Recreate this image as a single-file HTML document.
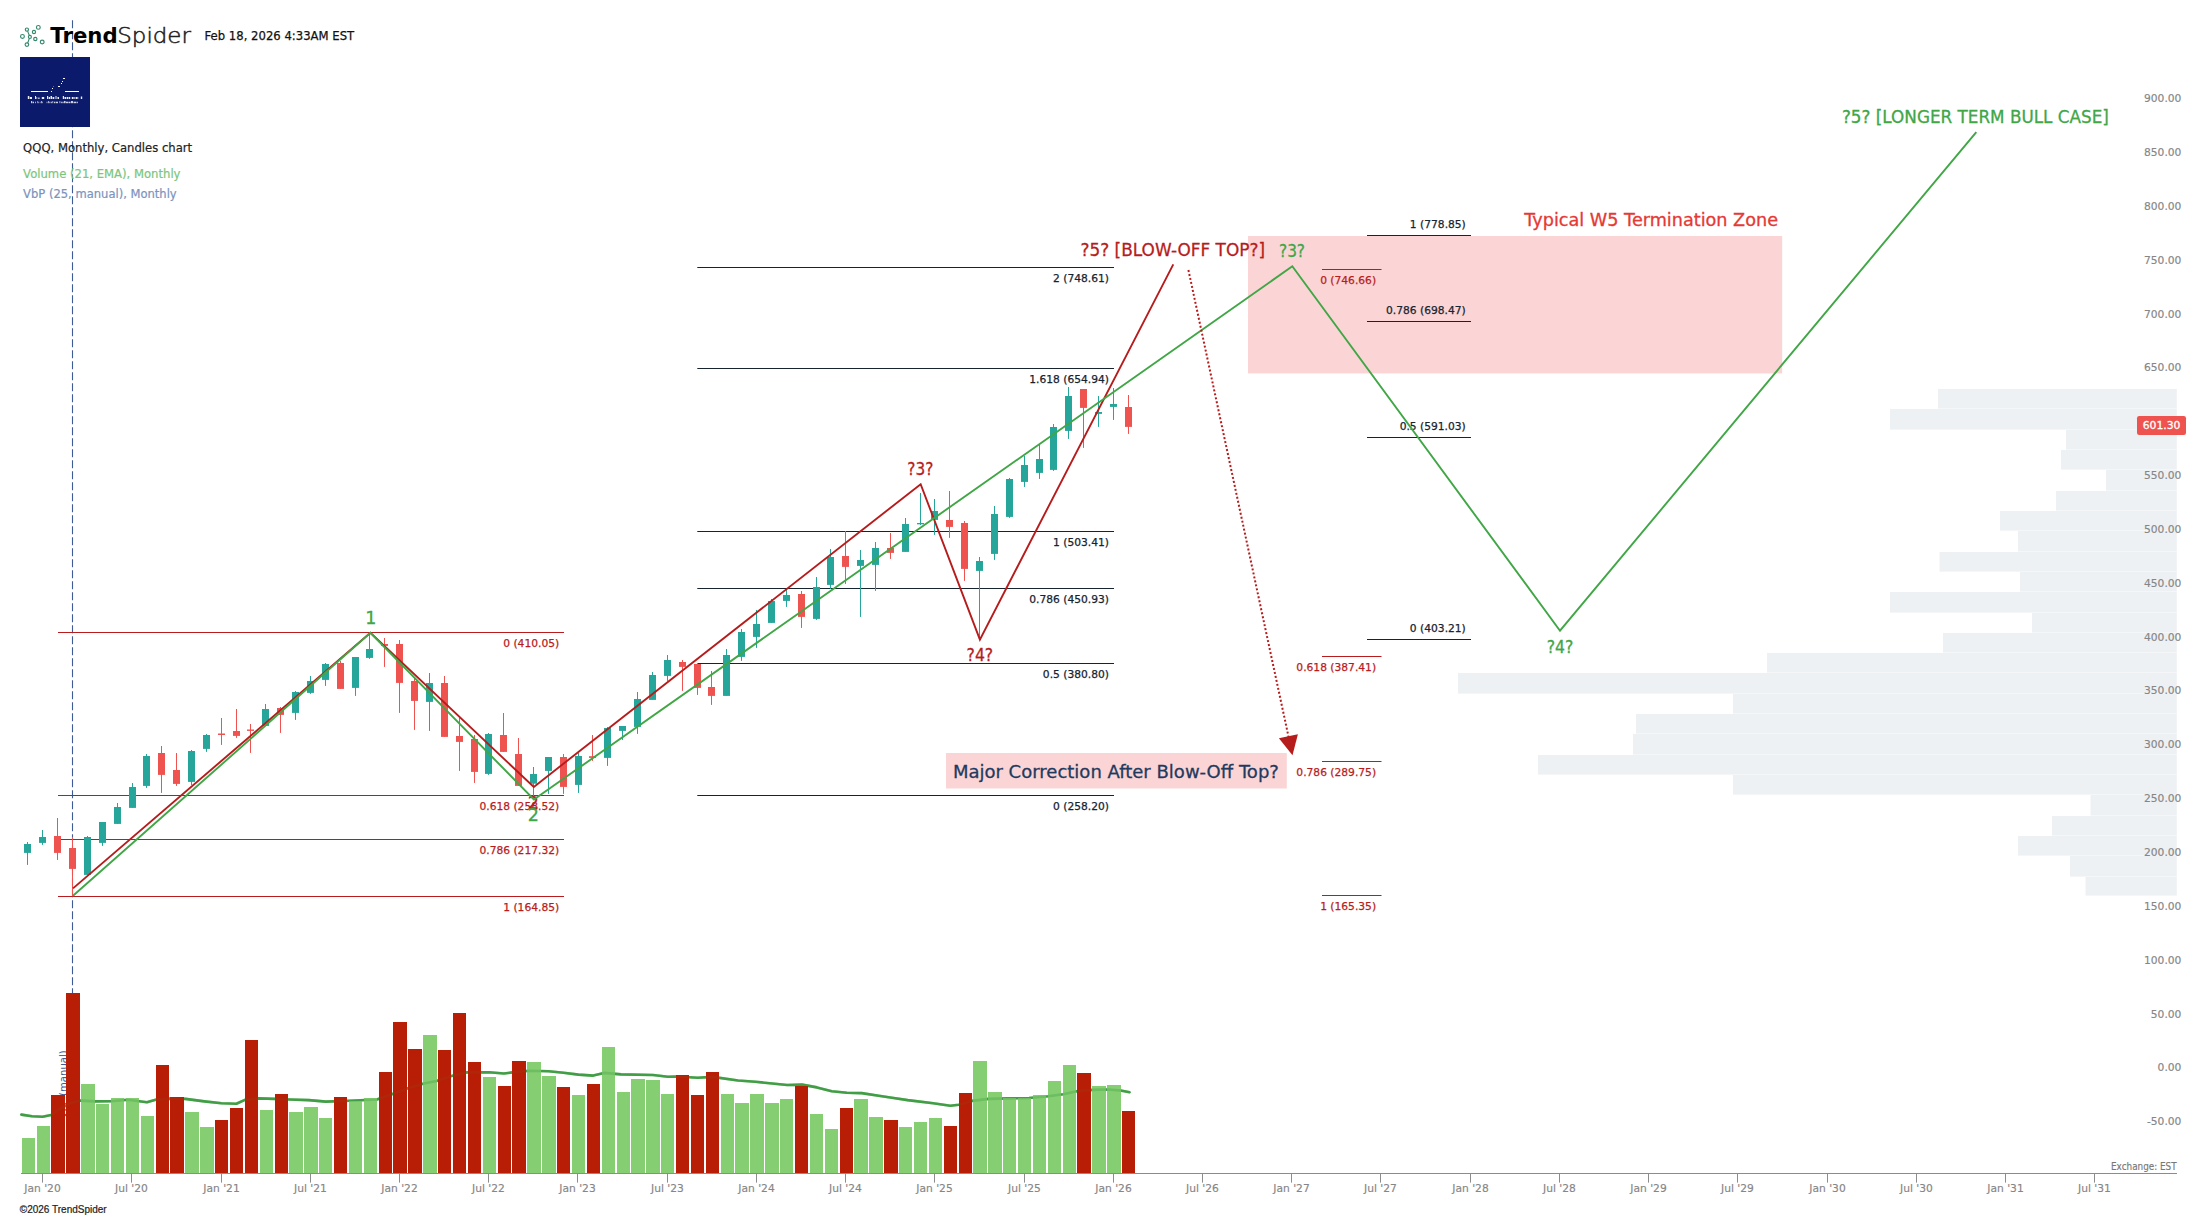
<!DOCTYPE html>
<html lang="en"><head><meta charset="utf-8"><title>QQQ Monthly - TrendSpider</title>
<style>
html,body{margin:0;padding:0;background:#fff;}
body{width:2207px;height:1219px;overflow:hidden;position:relative;}
svg{display:block;position:absolute;left:0;top:0;}
text{font-family:"DejaVu Sans","Liberation Sans",sans-serif;}
.fl{font-size:10.7px;stroke-width:0.25px;}
.ax{font-size:10.7px;fill:#868686;stroke:#868686;stroke-width:0.15px;}
.wv{font-size:17.5px;stroke-width:0.3px;}
.hv{font-family:"Liberation Sans",sans-serif;}
</style></head><body>
<svg width="2207" height="1219" viewBox="0 0 2207 1219">
<rect x="0" y="0" width="2207" height="1219" fill="#ffffff"/>
<line x1="72.5" y1="20.2" x2="72.5" y2="1173" stroke="#3f5b96" stroke-width="1.1" stroke-dasharray="8 3"/>
<g fill="none" stroke="#35896b" stroke-width="1.15">
<circle cx="38.32" cy="27.38" r="1.90"/>
<circle cx="26.90" cy="29.60" r="1.60"/>
<circle cx="33.97" cy="31.99" r="1.60"/>
<circle cx="22.45" cy="36.44" r="1.90"/>
<circle cx="29.90" cy="36.93" r="1.50"/>
<circle cx="35.32" cy="39.00" r="1.65"/>
<circle cx="42.20" cy="41.98" r="1.90"/>
<circle cx="26.90" cy="44.60" r="1.80"/>
<path d="M27.6 31.1 Q28.6 33.8 29.4 35.5 M29.3 38.4 Q28.6 40.8 27.6 42.9"/>
</g>
<text x="50.3" y="43" font-size="21.8" font-weight="700" fill="#000" textLength="67.4" lengthAdjust="spacingAndGlyphs">Trend</text>
<text x="117.3" y="43.1" font-size="20.6" fill="#222" style="font-family:'DejaVu Sans Light','DejaVu Sans','Liberation Sans',sans-serif;font-weight:200" stroke="#222" stroke-width="0.5" textLength="73.6" lengthAdjust="spacingAndGlyphs">Spider</text>
<text x="204.5" y="40" font-size="12.2" fill="#111" stroke="#111" stroke-width="0.25" textLength="149.7" lengthAdjust="spacingAndGlyphs">Feb 18, 2026 4:33AM EST</text>
<rect x="20" y="57" width="70" height="70" fill="#0b1a6b"/>
<g fill="#fff" shape-rendering="crispEdges">
<rect x="31" y="91" width="17" height="1"/><rect x="65" y="91" width="14" height="1"/>
<rect x="51" y="91" width="1" height="1" opacity="1"/>
<rect x="52" y="88" width="1" height="1" opacity="1"/>
<rect x="53" y="86" width="1" height="1" opacity="0.35"/>
<rect x="58" y="86" width="2" height="1" opacity="1"/>
<rect x="61" y="83" width="1" height="1" opacity="1"/>
<rect x="62" y="81" width="1" height="1" opacity="1"/>
<rect x="63" y="78" width="2" height="1" opacity="1"/>
</g>
<g fill="#fff">
<rect x="27.8" y="96.0" width="1.5" height="3.0" opacity="0.92"/>
<rect x="29.8" y="97.0" width="2.2" height="2.0" opacity="0.92"/>
<rect x="35.0" y="96.0" width="1.0" height="3.0" opacity="0.92"/>
<rect x="36.5" y="97.0" width="0.7" height="2.0" opacity="0.92"/>
<rect x="38.3" y="97.5" width="1.2" height="1.5" opacity="0.92"/>
<rect x="41.8" y="97.0" width="2.4" height="2.0" opacity="0.92"/>
<rect x="47.0" y="96.0" width="1.2" height="3.0" opacity="0.92"/>
<rect x="48.7" y="97.0" width="1.3" height="2.0" opacity="0.92"/>
<rect x="50.5" y="96.0" width="1.5" height="3.0" opacity="0.92"/>
<rect x="52.5" y="97.0" width="1.8" height="2.0" opacity="0.92"/>
<rect x="55.5" y="96.0" width="1.0" height="3.0" opacity="0.92"/>
<rect x="57.5" y="97.0" width="1.5" height="2.0" opacity="0.92"/>
<rect x="62.8" y="96.0" width="1.2" height="3.0" opacity="0.92"/>
<rect x="64.5" y="97.0" width="1.5" height="2.0" opacity="0.92"/>
<rect x="66.6" y="97.0" width="1.6" height="2.0" opacity="0.92"/>
<rect x="68.7" y="97.0" width="1.5" height="2.0" opacity="0.92"/>
<rect x="71.8" y="97.0" width="1.2" height="2.0" opacity="0.92"/>
<rect x="73.4" y="97.0" width="1.2" height="2.0" opacity="0.92"/>
<rect x="75.6" y="97.0" width="1.4" height="2.0" opacity="0.92"/>
<rect x="77.4" y="97.0" width="0.8" height="2.0" opacity="0.92"/>
<rect x="80.8" y="96.5" width="1.4" height="2.5" opacity="0.92"/>
<rect x="31.0" y="101.0" width="1.2" height="2.2" opacity="0.8"/>
<rect x="32.6" y="101.7" width="1.4" height="1.5" opacity="0.8"/>
<rect x="35.2" y="101.7" width="0.8" height="1.5" opacity="0.8"/>
<rect x="37.0" y="101.0" width="0.6" height="2.2" opacity="0.8"/>
<rect x="38.4" y="101.7" width="0.6" height="1.5" opacity="0.8"/>
<rect x="39.8" y="101.7" width="0.6" height="1.5" opacity="0.8"/>
<rect x="41.2" y="101.0" width="0.8" height="2.2" opacity="0.8"/>
<rect x="42.4" y="101.7" width="0.6" height="1.5" opacity="0.8"/>
<rect x="46.6" y="101.7" width="0.8" height="1.5" opacity="0.8"/>
<rect x="48.0" y="101.0" width="0.8" height="2.2" opacity="0.8"/>
<rect x="49.4" y="101.7" width="1.0" height="1.5" opacity="0.8"/>
<rect x="51.0" y="101.7" width="0.8" height="1.5" opacity="0.8"/>
<rect x="52.4" y="101.0" width="0.8" height="2.2" opacity="0.8"/>
<rect x="54.0" y="101.7" width="1.5" height="1.5" opacity="0.8"/>
<rect x="56.0" y="101.7" width="2.0" height="1.5" opacity="0.8"/>
<rect x="59.5" y="101.0" width="0.8" height="2.2" opacity="0.8"/>
<rect x="61.0" y="101.7" width="0.8" height="1.5" opacity="0.8"/>
<rect x="62.4" y="101.7" width="1.2" height="1.5" opacity="0.8"/>
<rect x="64.0" y="101.0" width="1.6" height="2.2" opacity="0.8"/>
<rect x="66.0" y="101.7" width="2.0" height="1.5" opacity="0.8"/>
<rect x="68.4" y="101.7" width="2.1" height="1.5" opacity="0.8"/>
<rect x="71.0" y="101.0" width="2.0" height="2.2" opacity="0.8"/>
<rect x="73.5" y="101.7" width="2.5" height="1.5" opacity="0.8"/>
<rect x="76.5" y="101.7" width="1.3" height="1.5" opacity="0.8"/>
</g>
<text x="23.1" y="152.2" font-size="12" fill="#222" stroke="#222" stroke-width="0.2" textLength="169" lengthAdjust="spacingAndGlyphs">QQQ, Monthly, Candles chart</text>
<text x="23.1" y="178" font-size="12" fill="#7cc67c" stroke="#7cc67c" stroke-width="0.2" textLength="157.4" lengthAdjust="spacingAndGlyphs">Volume (21, EMA), Monthly</text>
<text x="23.1" y="198.2" font-size="12" fill="#7b93bd" stroke="#7b93bd" stroke-width="0.2" textLength="153.6" lengthAdjust="spacingAndGlyphs">VbP (25, manual), Monthly</text>
<g fill="#eef1f3">
<rect x="1938.0" y="389" width="238.8" height="19.6"/>
<rect x="1890.0" y="409" width="286.8" height="20.6"/>
<rect x="2066.0" y="430" width="110.8" height="19.6"/>
<rect x="2061.0" y="450" width="115.8" height="19.6"/>
<rect x="2106.0" y="470" width="70.8" height="20.6"/>
<rect x="2056.0" y="491" width="120.8" height="19.6"/>
<rect x="2000.0" y="511" width="176.8" height="19.6"/>
<rect x="2018.0" y="531" width="158.8" height="20.6"/>
<rect x="1939.5" y="552" width="237.3" height="19.6"/>
<rect x="2020.0" y="572" width="156.8" height="19.6"/>
<rect x="1890.0" y="592" width="286.8" height="20.6"/>
<rect x="2032.0" y="613" width="144.8" height="19.6"/>
<rect x="1943.0" y="633" width="233.8" height="19.6"/>
<rect x="1767.0" y="653" width="409.8" height="19.6"/>
<rect x="1458.0" y="673" width="718.8" height="20.6"/>
<rect x="1733.0" y="694" width="443.8" height="19.6"/>
<rect x="1636.0" y="714" width="540.8" height="19.6"/>
<rect x="1633.0" y="734" width="543.8" height="20.6"/>
<rect x="1538.0" y="755" width="638.8" height="19.6"/>
<rect x="1733.0" y="775" width="443.8" height="19.6"/>
<rect x="2090.5" y="795" width="86.3" height="20.6"/>
<rect x="2052.0" y="816" width="124.8" height="19.6"/>
<rect x="2018.0" y="836" width="158.8" height="19.6"/>
<rect x="2070.0" y="856" width="106.8" height="20.6"/>
<rect x="2085.5" y="877" width="91.3" height="18.6"/>
</g>
<rect x="1248" y="236" width="534.2" height="137.4" fill="#fbd5d5"/>
<text x="1524.3" y="225.5" font-size="17.3" fill="#e53935" stroke="#e53935" stroke-width="0.3" textLength="253.7" lengthAdjust="spacingAndGlyphs">Typical W5 Termination Zone</text>
<line x1="58.00" x2="564.00" y1="632.50" y2="632.50" stroke="#b91c1c" stroke-width="1.15"/>
<text x="559.20" y="646.90" text-anchor="end" class="fl" fill="#b91c1c" stroke="#b91c1c">0 (410.05)</text>
<line x1="58.00" x2="564.00" y1="795.50" y2="795.50" stroke="#b91c1c" stroke-width="1.15"/>
<text x="559.20" y="809.90" text-anchor="end" class="fl" fill="#b91c1c" stroke="#b91c1c">0.618 (258.52)</text>
<line x1="58.00" x2="564.00" y1="839.50" y2="839.50" stroke="#b91c1c" stroke-width="1.15"/>
<text x="559.20" y="853.90" text-anchor="end" class="fl" fill="#b91c1c" stroke="#b91c1c">0.786 (217.32)</text>
<line x1="58.00" x2="564.00" y1="896.50" y2="896.50" stroke="#b91c1c" stroke-width="1.15"/>
<text x="559.20" y="910.90" text-anchor="end" class="fl" fill="#b91c1c" stroke="#b91c1c">1 (164.85)</text>
<line x1="697.30" x2="1114.00" y1="267.50" y2="267.50" stroke="#16242f" stroke-width="1.15"/>
<text x="1109.00" y="282.00" text-anchor="end" class="fl" fill="#16242f" stroke="#16242f">2 (748.61)</text>
<line x1="697.30" x2="1114.00" y1="368.50" y2="368.50" stroke="#16242f" stroke-width="1.15"/>
<text x="1109.00" y="383.00" text-anchor="end" class="fl" fill="#16242f" stroke="#16242f">1.618 (654.94)</text>
<line x1="697.30" x2="1114.00" y1="531.50" y2="531.50" stroke="#16242f" stroke-width="1.15"/>
<text x="1109.00" y="546.00" text-anchor="end" class="fl" fill="#16242f" stroke="#16242f">1 (503.41)</text>
<line x1="697.30" x2="1114.00" y1="588.50" y2="588.50" stroke="#16242f" stroke-width="1.15"/>
<text x="1109.00" y="603.00" text-anchor="end" class="fl" fill="#16242f" stroke="#16242f">0.786 (450.93)</text>
<line x1="697.30" x2="1114.00" y1="663.50" y2="663.50" stroke="#16242f" stroke-width="1.15"/>
<text x="1109.00" y="678.00" text-anchor="end" class="fl" fill="#16242f" stroke="#16242f">0.5 (380.80)</text>
<line x1="697.30" x2="1114.00" y1="795.50" y2="795.50" stroke="#16242f" stroke-width="1.15"/>
<text x="1109.00" y="810.00" text-anchor="end" class="fl" fill="#16242f" stroke="#16242f">0 (258.20)</text>
<line x1="1322.00" x2="1381.50" y1="269.50" y2="269.50" stroke="#b91c1c" stroke-width="1.15"/>
<text x="1376.10" y="283.70" text-anchor="end" class="fl" fill="#b91c1c" stroke="#b91c1c">0 (746.66)</text>
<line x1="1322.00" x2="1381.50" y1="656.50" y2="656.50" stroke="#b91c1c" stroke-width="1.15"/>
<text x="1376.10" y="670.70" text-anchor="end" class="fl" fill="#b91c1c" stroke="#b91c1c">0.618 (387.41)</text>
<line x1="1322.00" x2="1381.50" y1="761.50" y2="761.50" stroke="#b91c1c" stroke-width="1.15"/>
<text x="1376.10" y="775.70" text-anchor="end" class="fl" fill="#b91c1c" stroke="#b91c1c">0.786 (289.75)</text>
<line x1="1322.00" x2="1381.50" y1="895.50" y2="895.50" stroke="#b91c1c" stroke-width="1.15"/>
<text x="1376.10" y="909.70" text-anchor="end" class="fl" fill="#b91c1c" stroke="#b91c1c">1 (165.35)</text>
<line x1="1367.00" x2="1471.00" y1="235.50" y2="235.50" stroke="#16242f" stroke-width="1.15"/>
<text x="1465.80" y="227.90" text-anchor="end" class="fl" fill="#16242f" stroke="#16242f">1 (778.85)</text>
<line x1="1367.00" x2="1471.00" y1="321.50" y2="321.50" stroke="#16242f" stroke-width="1.15"/>
<text x="1465.80" y="313.90" text-anchor="end" class="fl" fill="#16242f" stroke="#16242f">0.786 (698.47)</text>
<line x1="1367.00" x2="1471.00" y1="437.50" y2="437.50" stroke="#16242f" stroke-width="1.15"/>
<text x="1465.80" y="429.90" text-anchor="end" class="fl" fill="#16242f" stroke="#16242f">0.5 (591.03)</text>
<line x1="1367.00" x2="1471.00" y1="639.50" y2="639.50" stroke="#16242f" stroke-width="1.15"/>
<text x="1465.80" y="631.90" text-anchor="end" class="fl" fill="#16242f" stroke="#16242f">0 (403.21)</text>
<g>
<rect x="27" y="842.0" width="1" height="22.9" fill="#26a69a"/>
<rect x="24" y="844.0" width="7" height="8.9" fill="#26a69a"/>
<rect x="42" y="830.0" width="1" height="14.9" fill="#26a69a"/>
<rect x="39" y="837.0" width="7" height="5.9" fill="#26a69a"/>
<rect x="57" y="818.0" width="1" height="41.9" fill="#ef5350"/>
<rect x="54" y="836.0" width="7" height="16.9" fill="#ef5350"/>
<rect x="72" y="837.0" width="1" height="59.2" fill="#ef5350"/>
<rect x="69" y="848.0" width="7" height="20.9" fill="#ef5350"/>
<rect x="87" y="836.0" width="1" height="38.9" fill="#26a69a"/>
<rect x="84" y="837.0" width="7" height="37.9" fill="#26a69a"/>
<rect x="102" y="822.0" width="1" height="23.9" fill="#26a69a"/>
<rect x="99" y="822.0" width="7" height="20.9" fill="#26a69a"/>
<rect x="117" y="803.0" width="1" height="20.9" fill="#26a69a"/>
<rect x="114" y="807.0" width="7" height="16.9" fill="#26a69a"/>
<rect x="132" y="783.0" width="1" height="24.9" fill="#26a69a"/>
<rect x="129" y="787.0" width="7" height="20.9" fill="#26a69a"/>
<rect x="146" y="754.0" width="1" height="33.9" fill="#26a69a"/>
<rect x="143" y="756.0" width="7" height="29.9" fill="#26a69a"/>
<rect x="161" y="746.0" width="1" height="46.9" fill="#ef5350"/>
<rect x="158" y="753.0" width="7" height="21.9" fill="#ef5350"/>
<rect x="176" y="753.0" width="1" height="32.9" fill="#ef5350"/>
<rect x="173" y="770.0" width="7" height="13.9" fill="#ef5350"/>
<rect x="191" y="750.0" width="1" height="35.0" fill="#26a69a"/>
<rect x="188" y="751.0" width="7" height="30.9" fill="#26a69a"/>
<rect x="206" y="734.0" width="1" height="17.9" fill="#26a69a"/>
<rect x="203" y="735.0" width="7" height="13.9" fill="#26a69a"/>
<rect x="221" y="718.0" width="1" height="26.9" fill="#ef5350"/>
<rect x="218" y="733.5" width="7" height="1.5" fill="#ef5350"/>
<rect x="236" y="709.0" width="1" height="28.9" fill="#ef5350"/>
<rect x="233" y="731.0" width="7" height="4.9" fill="#ef5350"/>
<rect x="250" y="724.0" width="1" height="28.9" fill="#ef5350"/>
<rect x="247" y="729.5" width="7" height="1.4" fill="#ef5350"/>
<rect x="265" y="704.0" width="1" height="21.9" fill="#26a69a"/>
<rect x="262" y="709.0" width="7" height="16.9" fill="#26a69a"/>
<rect x="280" y="707.0" width="1" height="25.9" fill="#ef5350"/>
<rect x="277" y="708.0" width="7" height="6.9" fill="#ef5350"/>
<rect x="295" y="691.0" width="1" height="28.9" fill="#26a69a"/>
<rect x="292" y="692.0" width="7" height="20.9" fill="#26a69a"/>
<rect x="310" y="676.0" width="1" height="17.9" fill="#26a69a"/>
<rect x="307" y="681.0" width="7" height="11.9" fill="#26a69a"/>
<rect x="325" y="663.0" width="1" height="22.9" fill="#26a69a"/>
<rect x="322" y="664.0" width="7" height="15.9" fill="#26a69a"/>
<rect x="340" y="661.0" width="1" height="27.9" fill="#ef5350"/>
<rect x="337" y="663.0" width="7" height="25.9" fill="#ef5350"/>
<rect x="355" y="657.0" width="1" height="38.9" fill="#26a69a"/>
<rect x="352" y="657.0" width="7" height="30.9" fill="#26a69a"/>
<rect x="369" y="633.0" width="1" height="25.9" fill="#26a69a"/>
<rect x="366" y="649.0" width="7" height="8.9" fill="#26a69a"/>
<rect x="384" y="638.0" width="1" height="28.9" fill="#ef5350"/>
<rect x="381" y="644.0" width="7" height="1.9" fill="#ef5350"/>
<rect x="399" y="640.0" width="1" height="72.9" fill="#ef5350"/>
<rect x="396" y="644.0" width="7" height="38.9" fill="#ef5350"/>
<rect x="414" y="677.0" width="1" height="52.9" fill="#ef5350"/>
<rect x="411" y="681.0" width="7" height="19.9" fill="#ef5350"/>
<rect x="429" y="673.0" width="1" height="57.9" fill="#26a69a"/>
<rect x="426" y="683.0" width="7" height="18.9" fill="#26a69a"/>
<rect x="444" y="676.0" width="1" height="60.9" fill="#ef5350"/>
<rect x="441" y="683.0" width="7" height="53.9" fill="#ef5350"/>
<rect x="459" y="718.0" width="1" height="52.9" fill="#ef5350"/>
<rect x="456" y="736.0" width="7" height="5.9" fill="#ef5350"/>
<rect x="474" y="735.0" width="1" height="47.9" fill="#ef5350"/>
<rect x="471" y="739.0" width="7" height="32.9" fill="#ef5350"/>
<rect x="488" y="733.0" width="1" height="41.9" fill="#26a69a"/>
<rect x="485" y="734.0" width="7" height="39.9" fill="#26a69a"/>
<rect x="503" y="713.0" width="1" height="38.9" fill="#ef5350"/>
<rect x="500" y="735.0" width="7" height="16.9" fill="#ef5350"/>
<rect x="518" y="738.0" width="1" height="47.9" fill="#ef5350"/>
<rect x="515" y="754.0" width="7" height="31.9" fill="#ef5350"/>
<rect x="533" y="767.0" width="1" height="30.9" fill="#26a69a"/>
<rect x="530" y="774.0" width="7" height="9.7" fill="#26a69a"/>
<rect x="548" y="757.0" width="1" height="36.9" fill="#26a69a"/>
<rect x="545" y="757.0" width="7" height="13.9" fill="#26a69a"/>
<rect x="563" y="754.0" width="1" height="39.9" fill="#ef5350"/>
<rect x="560" y="757.0" width="7" height="29.9" fill="#ef5350"/>
<rect x="578" y="753.0" width="1" height="39.9" fill="#26a69a"/>
<rect x="575" y="756.0" width="7" height="28.9" fill="#26a69a"/>
<rect x="592" y="735.0" width="1" height="25.9" fill="#ef5350"/>
<rect x="589" y="756.2" width="7" height="1.7" fill="#ef5350"/>
<rect x="607" y="727.0" width="1" height="38.9" fill="#26a69a"/>
<rect x="604" y="728.0" width="7" height="29.9" fill="#26a69a"/>
<rect x="622" y="726.0" width="1" height="13.9" fill="#26a69a"/>
<rect x="619" y="726.0" width="7" height="4.9" fill="#26a69a"/>
<rect x="637" y="692.0" width="1" height="41.9" fill="#26a69a"/>
<rect x="634" y="699.0" width="7" height="27.9" fill="#26a69a"/>
<rect x="652" y="672.0" width="1" height="27.9" fill="#26a69a"/>
<rect x="649" y="675.0" width="7" height="24.9" fill="#26a69a"/>
<rect x="667" y="655.0" width="1" height="25.9" fill="#26a69a"/>
<rect x="664" y="660.0" width="7" height="15.9" fill="#26a69a"/>
<rect x="682" y="660.0" width="1" height="30.9" fill="#ef5350"/>
<rect x="679" y="662.0" width="7" height="4.9" fill="#ef5350"/>
<rect x="697" y="663.0" width="1" height="31.9" fill="#ef5350"/>
<rect x="694" y="664.0" width="7" height="23.9" fill="#ef5350"/>
<rect x="711" y="671.0" width="1" height="33.9" fill="#ef5350"/>
<rect x="708" y="687.0" width="7" height="8.9" fill="#ef5350"/>
<rect x="726" y="649.0" width="1" height="46.9" fill="#26a69a"/>
<rect x="723" y="655.0" width="7" height="40.9" fill="#26a69a"/>
<rect x="741" y="629.0" width="1" height="31.9" fill="#26a69a"/>
<rect x="738" y="632.0" width="7" height="24.9" fill="#26a69a"/>
<rect x="756" y="610.0" width="1" height="37.9" fill="#26a69a"/>
<rect x="753" y="624.0" width="7" height="12.9" fill="#26a69a"/>
<rect x="771" y="599.0" width="1" height="23.9" fill="#26a69a"/>
<rect x="768" y="601.0" width="7" height="21.9" fill="#26a69a"/>
<rect x="786" y="589.0" width="1" height="17.9" fill="#26a69a"/>
<rect x="783" y="595.0" width="7" height="5.9" fill="#26a69a"/>
<rect x="801" y="591.0" width="1" height="36.9" fill="#ef5350"/>
<rect x="798" y="594.0" width="7" height="22.9" fill="#ef5350"/>
<rect x="816" y="577.0" width="1" height="42.9" fill="#26a69a"/>
<rect x="813" y="587.0" width="7" height="31.9" fill="#26a69a"/>
<rect x="830" y="549.0" width="1" height="39.9" fill="#26a69a"/>
<rect x="827" y="557.0" width="7" height="27.9" fill="#26a69a"/>
<rect x="845" y="531.0" width="1" height="52.9" fill="#ef5350"/>
<rect x="842" y="556.0" width="7" height="10.9" fill="#ef5350"/>
<rect x="860" y="550.0" width="1" height="66.9" fill="#26a69a"/>
<rect x="857" y="560.0" width="7" height="5.9" fill="#26a69a"/>
<rect x="875" y="542.0" width="1" height="48.9" fill="#26a69a"/>
<rect x="872" y="548.0" width="7" height="16.9" fill="#26a69a"/>
<rect x="890" y="533.0" width="1" height="25.9" fill="#ef5350"/>
<rect x="887" y="548.0" width="7" height="4.9" fill="#ef5350"/>
<rect x="905" y="518.0" width="1" height="33.9" fill="#26a69a"/>
<rect x="902" y="524.0" width="7" height="27.9" fill="#26a69a"/>
<rect x="920" y="493.0" width="1" height="32.0" fill="#26a69a"/>
<rect x="917" y="523.0" width="7" height="1.3" fill="#26a69a"/>
<rect x="934" y="499.0" width="1" height="35.9" fill="#26a69a"/>
<rect x="931" y="511.0" width="7" height="8.9" fill="#26a69a"/>
<rect x="949" y="491.0" width="1" height="46.9" fill="#ef5350"/>
<rect x="946" y="520.0" width="7" height="6.9" fill="#ef5350"/>
<rect x="964" y="521.0" width="1" height="59.9" fill="#ef5350"/>
<rect x="961" y="523.0" width="7" height="45.9" fill="#ef5350"/>
<rect x="979" y="557.0" width="1" height="82.0" fill="#26a69a"/>
<rect x="976" y="561.0" width="7" height="9.9" fill="#26a69a"/>
<rect x="994" y="506.0" width="1" height="53.9" fill="#26a69a"/>
<rect x="991" y="514.0" width="7" height="39.9" fill="#26a69a"/>
<rect x="1009" y="478.0" width="1" height="39.9" fill="#26a69a"/>
<rect x="1006" y="479.0" width="7" height="37.9" fill="#26a69a"/>
<rect x="1024" y="456.0" width="1" height="30.9" fill="#26a69a"/>
<rect x="1021" y="465.0" width="7" height="16.9" fill="#26a69a"/>
<rect x="1039" y="445.0" width="1" height="33.9" fill="#26a69a"/>
<rect x="1036" y="459.0" width="7" height="13.9" fill="#26a69a"/>
<rect x="1053" y="424.0" width="1" height="46.9" fill="#26a69a"/>
<rect x="1050" y="427.0" width="7" height="42.9" fill="#26a69a"/>
<rect x="1068" y="387.0" width="1" height="51.9" fill="#26a69a"/>
<rect x="1065" y="396.0" width="7" height="34.9" fill="#26a69a"/>
<rect x="1083" y="389.0" width="1" height="58.9" fill="#ef5350"/>
<rect x="1080" y="389.0" width="7" height="18.9" fill="#ef5350"/>
<rect x="1098" y="396.0" width="1" height="30.9" fill="#26a69a"/>
<rect x="1095" y="412.0" width="7" height="1.9" fill="#26a69a"/>
<rect x="1113" y="388.0" width="1" height="31.9" fill="#26a69a"/>
<rect x="1110" y="404.0" width="7" height="2.9" fill="#26a69a"/>
<rect x="1128" y="395.0" width="1" height="38.9" fill="#ef5350"/>
<rect x="1125" y="407.0" width="7" height="19.9" fill="#ef5350"/>
</g>
<text x="533.3" y="808.5" text-anchor="middle" class="wv" fill="#b71c1c" stroke="#b71c1c">2</text>
<polyline fill="none" stroke="#b71c1c" stroke-width="1.9" stroke-linejoin="miter" points="73,888.4 370.4,632.9 533.8,786.9 920.65,484.2 979.9,639.6 1173.3,264.4"/>
<polyline fill="none" stroke="#40a646" stroke-width="1.9" stroke-linejoin="miter" points="73,895.8 370.4,632.9 533.9,799.5 1292.3,266.3 1560,630.7 1976.3,132.1"/>
<line x1="1188.4" y1="270" x2="1288.8" y2="738" stroke="#b71c1c" stroke-width="2" stroke-dasharray="2 2.07"/>
<polygon points="1278.9,738.2 1297.9,734.2 1292.5,755.2" fill="#b71c1c"/>
<text x="370.90" y="623.75" text-anchor="middle" class="wv" fill="#40a646" stroke="#40a646">1</text>
<text x="533.40" y="821.00" text-anchor="middle" class="wv" fill="#40a646" stroke="#40a646">2</text>
<text x="920.30" y="475.00" text-anchor="middle" class="wv" fill="#b71c1c" stroke="#b71c1c" textLength="26" lengthAdjust="spacingAndGlyphs">?3?</text>
<text x="979.90" y="661.40" text-anchor="middle" class="wv" fill="#b71c1c" stroke="#b71c1c" textLength="26.6" lengthAdjust="spacingAndGlyphs">?4?</text>
<text x="1080.50" y="255.50" text-anchor="start" class="wv" fill="#b71c1c" stroke="#b71c1c" textLength="184.5" lengthAdjust="spacingAndGlyphs">?5? [BLOW-OFF TOP?]</text>
<text x="1292.00" y="257.20" text-anchor="middle" class="wv" fill="#40a646" stroke="#40a646" textLength="26" lengthAdjust="spacingAndGlyphs">?3?</text>
<text x="1560.00" y="652.60" text-anchor="middle" class="wv" fill="#40a646" stroke="#40a646" textLength="26.6" lengthAdjust="spacingAndGlyphs">?4?</text>
<text x="1841.90" y="122.60" text-anchor="start" class="wv" fill="#40a646" stroke="#40a646" textLength="267" lengthAdjust="spacingAndGlyphs">?5? [LONGER TERM BULL CASE]</text>
<rect x="946" y="753" width="340.8" height="35.5" fill="#fbd5d5"/>
<text x="952.9" y="778" font-size="18" fill="#1f3a5f" stroke="#1f3a5f" stroke-width="0.3" textLength="326" lengthAdjust="spacingAndGlyphs">Major Correction After Blow-Off Top?</text>
<text transform="translate(67,1050.3) rotate(-90)" x="-68.2" y="0" font-size="11" fill="#3f5b96" textLength="68.2" lengthAdjust="spacingAndGlyphs">VbP (manual)</text>
<polyline fill="none" stroke="#43a047" stroke-width="2.6" stroke-linejoin="round" stroke-linecap="round" points="21.3,1114.6 32.0,1116.3 42.6,1116.7 51.1,1115.0 60.0,1109.0 70.0,1103.0 80.9,1100.6 95.8,1101.4 110.7,1101.2 127.8,1099.7 146.9,1102.3 156.5,1099.5 170.0,1098.6 185.3,1098.9 204.4,1101.4 221.5,1103.3 236.4,1103.8 244.9,1099.9 258.7,1098.4 274.7,1098.9 289.6,1099.5 308.8,1100.1 325.8,1101.6 349.3,1100.8 376.9,1099.5 391.8,1094.2 407.8,1088.2 423.8,1083.5 436.6,1081.0 451.5,1076.1 466.6,1072.4 489.0,1072.2 503.9,1073.5 512.4,1072.4 529.4,1070.7 548.6,1071.2 563.5,1072.7 578.4,1074.6 593.3,1075.6 604.0,1072.9 621.0,1074.4 653.0,1075.0 667.9,1076.7 676.4,1076.5 697.7,1077.8 712.6,1076.9 738.1,1080.5 755.2,1081.8 772.2,1083.5 787.1,1085.0 802.0,1084.6 816.9,1087.4 831.8,1091.2 846.8,1092.7 861.7,1093.1 878.7,1095.7 893.6,1098.0 907.7,1100.1 933.2,1103.3 950.3,1105.7 958.8,1104.8 973.7,1100.6 988.6,1098.9 1007.8,1098.4 1029.0,1098.0 1048.2,1096.3 1063.1,1094.2 1078.0,1091.0 1093.0,1089.9 1107.9,1089.5 1120.6,1090.5 1129.6,1092.2"/>
<g shape-rendering="crispEdges">
<rect x="22" y="1138" width="13" height="35" fill="#85cf72"/>
<rect x="37" y="1126" width="13" height="47" fill="#85cf72"/>
<rect x="81" y="1084" width="14" height="89" fill="#85cf72"/>
<rect x="96" y="1104" width="13" height="69" fill="#85cf72"/>
<rect x="111" y="1098" width="13" height="75" fill="#85cf72"/>
<rect x="126" y="1098" width="13" height="75" fill="#85cf72"/>
<rect x="141" y="1116" width="13" height="57" fill="#85cf72"/>
<rect x="185" y="1112" width="14" height="61" fill="#85cf72"/>
<rect x="200" y="1127" width="14" height="46" fill="#85cf72"/>
<rect x="260" y="1110" width="13" height="63" fill="#85cf72"/>
<rect x="289" y="1112" width="14" height="61" fill="#85cf72"/>
<rect x="304" y="1107" width="14" height="66" fill="#85cf72"/>
<rect x="319" y="1118" width="13" height="55" fill="#85cf72"/>
<rect x="349" y="1101" width="13" height="72" fill="#85cf72"/>
<rect x="364" y="1098" width="13" height="75" fill="#85cf72"/>
<rect x="423" y="1035" width="14" height="138" fill="#85cf72"/>
<rect x="483" y="1077" width="13" height="96" fill="#85cf72"/>
<rect x="527" y="1062" width="14" height="111" fill="#85cf72"/>
<rect x="542" y="1076" width="14" height="97" fill="#85cf72"/>
<rect x="572" y="1095" width="13" height="78" fill="#85cf72"/>
<rect x="602" y="1047" width="13" height="126" fill="#85cf72"/>
<rect x="617" y="1092" width="13" height="81" fill="#85cf72"/>
<rect x="631" y="1079" width="14" height="94" fill="#85cf72"/>
<rect x="646" y="1080" width="14" height="93" fill="#85cf72"/>
<rect x="661" y="1094" width="13" height="79" fill="#85cf72"/>
<rect x="721" y="1094" width="13" height="79" fill="#85cf72"/>
<rect x="735" y="1103" width="14" height="70" fill="#85cf72"/>
<rect x="750" y="1094" width="14" height="79" fill="#85cf72"/>
<rect x="765" y="1103" width="14" height="70" fill="#85cf72"/>
<rect x="780" y="1099" width="13" height="74" fill="#85cf72"/>
<rect x="810" y="1114" width="13" height="59" fill="#85cf72"/>
<rect x="825" y="1129" width="13" height="44" fill="#85cf72"/>
<rect x="854" y="1099" width="14" height="74" fill="#85cf72"/>
<rect x="869" y="1117" width="14" height="56" fill="#85cf72"/>
<rect x="899" y="1127" width="13" height="46" fill="#85cf72"/>
<rect x="914" y="1122" width="13" height="51" fill="#85cf72"/>
<rect x="929" y="1118" width="13" height="55" fill="#85cf72"/>
<rect x="973" y="1061" width="14" height="112" fill="#85cf72"/>
<rect x="988" y="1092" width="14" height="81" fill="#85cf72"/>
<rect x="1003" y="1098" width="13" height="75" fill="#85cf72"/>
<rect x="1018" y="1098" width="13" height="75" fill="#85cf72"/>
<rect x="1033" y="1095" width="13" height="78" fill="#85cf72"/>
<rect x="1048" y="1081" width="13" height="92" fill="#85cf72"/>
<rect x="1063" y="1065" width="13" height="108" fill="#85cf72"/>
<rect x="1092" y="1086" width="14" height="87" fill="#85cf72"/>
<rect x="1107" y="1085" width="14" height="88" fill="#85cf72"/>
</g>
<polyline fill="none" stroke="#43a047" stroke-width="2.6" stroke-linejoin="round" opacity="0.3" points="21.3,1114.6 32.0,1116.3 42.6,1116.7 51.1,1115.0 60.0,1109.0 70.0,1103.0 80.9,1100.6 95.8,1101.4 110.7,1101.2 127.8,1099.7 146.9,1102.3 156.5,1099.5 170.0,1098.6 185.3,1098.9 204.4,1101.4 221.5,1103.3 236.4,1103.8 244.9,1099.9 258.7,1098.4 274.7,1098.9 289.6,1099.5 308.8,1100.1 325.8,1101.6 349.3,1100.8 376.9,1099.5 391.8,1094.2 407.8,1088.2 423.8,1083.5 436.6,1081.0 451.5,1076.1 466.6,1072.4 489.0,1072.2 503.9,1073.5 512.4,1072.4 529.4,1070.7 548.6,1071.2 563.5,1072.7 578.4,1074.6 593.3,1075.6 604.0,1072.9 621.0,1074.4 653.0,1075.0 667.9,1076.7 676.4,1076.5 697.7,1077.8 712.6,1076.9 738.1,1080.5 755.2,1081.8 772.2,1083.5 787.1,1085.0 802.0,1084.6 816.9,1087.4 831.8,1091.2 846.8,1092.7 861.7,1093.1 878.7,1095.7 893.6,1098.0 907.7,1100.1 933.2,1103.3 950.3,1105.7 958.8,1104.8 973.7,1100.6 988.6,1098.9 1007.8,1098.4 1029.0,1098.0 1048.2,1096.3 1063.1,1094.2 1078.0,1091.0 1093.0,1089.9 1107.9,1089.5 1120.6,1090.5 1129.6,1092.2"/>
<g shape-rendering="crispEdges">
<rect x="51" y="1095" width="14" height="78" fill="#b81e06"/>
<rect x="66" y="993" width="14" height="180" fill="#b81e06"/>
<rect x="156" y="1065" width="13" height="108" fill="#b81e06"/>
<rect x="170" y="1097" width="14" height="76" fill="#b81e06"/>
<rect x="215" y="1120" width="13" height="53" fill="#b81e06"/>
<rect x="230" y="1108" width="13" height="65" fill="#b81e06"/>
<rect x="245" y="1040" width="13" height="133" fill="#b81e06"/>
<rect x="275" y="1094" width="13" height="79" fill="#b81e06"/>
<rect x="334" y="1097" width="13" height="76" fill="#b81e06"/>
<rect x="379" y="1072" width="13" height="101" fill="#b81e06"/>
<rect x="393" y="1022" width="14" height="151" fill="#b81e06"/>
<rect x="408" y="1049" width="14" height="124" fill="#b81e06"/>
<rect x="438" y="1050" width="13" height="123" fill="#b81e06"/>
<rect x="453" y="1013" width="13" height="160" fill="#b81e06"/>
<rect x="468" y="1062" width="13" height="111" fill="#b81e06"/>
<rect x="498" y="1086" width="13" height="87" fill="#b81e06"/>
<rect x="512" y="1061" width="14" height="112" fill="#b81e06"/>
<rect x="557" y="1087" width="13" height="86" fill="#b81e06"/>
<rect x="587" y="1084" width="13" height="89" fill="#b81e06"/>
<rect x="676" y="1075" width="13" height="98" fill="#b81e06"/>
<rect x="691" y="1095" width="13" height="78" fill="#b81e06"/>
<rect x="706" y="1072" width="13" height="101" fill="#b81e06"/>
<rect x="795" y="1086" width="13" height="87" fill="#b81e06"/>
<rect x="840" y="1108" width="13" height="65" fill="#b81e06"/>
<rect x="884" y="1120" width="14" height="53" fill="#b81e06"/>
<rect x="944" y="1126" width="13" height="47" fill="#b81e06"/>
<rect x="959" y="1093" width="13" height="80" fill="#b81e06"/>
<rect x="1077" y="1073" width="14" height="100" fill="#b81e06"/>
<rect x="1122" y="1111" width="13" height="62" fill="#b81e06"/>
</g>
<polyline fill="none" stroke="#43a047" stroke-width="2.6" stroke-linejoin="round" opacity="0.07" points="21.3,1114.6 32.0,1116.3 42.6,1116.7 51.1,1115.0 60.0,1109.0 70.0,1103.0 80.9,1100.6 95.8,1101.4 110.7,1101.2 127.8,1099.7 146.9,1102.3 156.5,1099.5 170.0,1098.6 185.3,1098.9 204.4,1101.4 221.5,1103.3 236.4,1103.8 244.9,1099.9 258.7,1098.4 274.7,1098.9 289.6,1099.5 308.8,1100.1 325.8,1101.6 349.3,1100.8 376.9,1099.5 391.8,1094.2 407.8,1088.2 423.8,1083.5 436.6,1081.0 451.5,1076.1 466.6,1072.4 489.0,1072.2 503.9,1073.5 512.4,1072.4 529.4,1070.7 548.6,1071.2 563.5,1072.7 578.4,1074.6 593.3,1075.6 604.0,1072.9 621.0,1074.4 653.0,1075.0 667.9,1076.7 676.4,1076.5 697.7,1077.8 712.6,1076.9 738.1,1080.5 755.2,1081.8 772.2,1083.5 787.1,1085.0 802.0,1084.6 816.9,1087.4 831.8,1091.2 846.8,1092.7 861.7,1093.1 878.7,1095.7 893.6,1098.0 907.7,1100.1 933.2,1103.3 950.3,1105.7 958.8,1104.8 973.7,1100.6 988.6,1098.9 1007.8,1098.4 1029.0,1098.0 1048.2,1096.3 1063.1,1094.2 1078.0,1091.0 1093.0,1089.9 1107.9,1089.5 1120.6,1090.5 1129.6,1092.2"/>
<line x1="21" x2="2176.8" y1="1173.5" y2="1173.5" stroke="#8c8c8c" stroke-width="1" shape-rendering="crispEdges"/>
<line x1="42.5" x2="42.5" y1="1173" y2="1182.6" stroke="#8c8c8c" stroke-width="1"/>
<text x="42.5" y="1192" text-anchor="middle" class="ax">Jan '20</text>
<line x1="131.5" x2="131.5" y1="1173" y2="1182.6" stroke="#8c8c8c" stroke-width="1"/>
<text x="131.5" y="1192" text-anchor="middle" class="ax">Jul '20</text>
<line x1="221.5" x2="221.5" y1="1173" y2="1182.6" stroke="#8c8c8c" stroke-width="1"/>
<text x="221.5" y="1192" text-anchor="middle" class="ax">Jan '21</text>
<line x1="310.5" x2="310.5" y1="1173" y2="1182.6" stroke="#8c8c8c" stroke-width="1"/>
<text x="310.5" y="1192" text-anchor="middle" class="ax">Jul '21</text>
<line x1="399.5" x2="399.5" y1="1173" y2="1182.6" stroke="#8c8c8c" stroke-width="1"/>
<text x="399.5" y="1192" text-anchor="middle" class="ax">Jan '22</text>
<line x1="488.5" x2="488.5" y1="1173" y2="1182.6" stroke="#8c8c8c" stroke-width="1"/>
<text x="488.5" y="1192" text-anchor="middle" class="ax">Jul '22</text>
<line x1="577.5" x2="577.5" y1="1173" y2="1182.6" stroke="#8c8c8c" stroke-width="1"/>
<text x="577.5" y="1192" text-anchor="middle" class="ax">Jan '23</text>
<line x1="667.5" x2="667.5" y1="1173" y2="1182.6" stroke="#8c8c8c" stroke-width="1"/>
<text x="667.5" y="1192" text-anchor="middle" class="ax">Jul '23</text>
<line x1="756.5" x2="756.5" y1="1173" y2="1182.6" stroke="#8c8c8c" stroke-width="1"/>
<text x="756.5" y="1192" text-anchor="middle" class="ax">Jan '24</text>
<line x1="845.5" x2="845.5" y1="1173" y2="1182.6" stroke="#8c8c8c" stroke-width="1"/>
<text x="845.5" y="1192" text-anchor="middle" class="ax">Jul '24</text>
<line x1="934.5" x2="934.5" y1="1173" y2="1182.6" stroke="#8c8c8c" stroke-width="1"/>
<text x="934.5" y="1192" text-anchor="middle" class="ax">Jan '25</text>
<line x1="1024.5" x2="1024.5" y1="1173" y2="1182.6" stroke="#8c8c8c" stroke-width="1"/>
<text x="1024.5" y="1192" text-anchor="middle" class="ax">Jul '25</text>
<line x1="1113.5" x2="1113.5" y1="1173" y2="1182.6" stroke="#8c8c8c" stroke-width="1"/>
<text x="1113.5" y="1192" text-anchor="middle" class="ax">Jan '26</text>
<line x1="1202.5" x2="1202.5" y1="1173" y2="1182.6" stroke="#8c8c8c" stroke-width="1"/>
<text x="1202.5" y="1192" text-anchor="middle" class="ax">Jul '26</text>
<line x1="1291.5" x2="1291.5" y1="1173" y2="1182.6" stroke="#8c8c8c" stroke-width="1"/>
<text x="1291.5" y="1192" text-anchor="middle" class="ax">Jan '27</text>
<line x1="1380.5" x2="1380.5" y1="1173" y2="1182.6" stroke="#8c8c8c" stroke-width="1"/>
<text x="1380.5" y="1192" text-anchor="middle" class="ax">Jul '27</text>
<line x1="1470.5" x2="1470.5" y1="1173" y2="1182.6" stroke="#8c8c8c" stroke-width="1"/>
<text x="1470.5" y="1192" text-anchor="middle" class="ax">Jan '28</text>
<line x1="1559.5" x2="1559.5" y1="1173" y2="1182.6" stroke="#8c8c8c" stroke-width="1"/>
<text x="1559.5" y="1192" text-anchor="middle" class="ax">Jul '28</text>
<line x1="1648.5" x2="1648.5" y1="1173" y2="1182.6" stroke="#8c8c8c" stroke-width="1"/>
<text x="1648.5" y="1192" text-anchor="middle" class="ax">Jan '29</text>
<line x1="1737.5" x2="1737.5" y1="1173" y2="1182.6" stroke="#8c8c8c" stroke-width="1"/>
<text x="1737.5" y="1192" text-anchor="middle" class="ax">Jul '29</text>
<line x1="1827.5" x2="1827.5" y1="1173" y2="1182.6" stroke="#8c8c8c" stroke-width="1"/>
<text x="1827.5" y="1192" text-anchor="middle" class="ax">Jan '30</text>
<line x1="1916.5" x2="1916.5" y1="1173" y2="1182.6" stroke="#8c8c8c" stroke-width="1"/>
<text x="1916.5" y="1192" text-anchor="middle" class="ax">Jul '30</text>
<line x1="2005.5" x2="2005.5" y1="1173" y2="1182.6" stroke="#8c8c8c" stroke-width="1"/>
<text x="2005.5" y="1192" text-anchor="middle" class="ax">Jan '31</text>
<line x1="2094.5" x2="2094.5" y1="1173" y2="1182.6" stroke="#8c8c8c" stroke-width="1"/>
<text x="2094.5" y="1192" text-anchor="middle" class="ax">Jul '31</text>
<text x="2181.4" y="1125.0" text-anchor="end" class="ax">-50.00</text>
<text x="2181.4" y="1071.0" text-anchor="end" class="ax">0.00</text>
<text x="2181.4" y="1018.0" text-anchor="end" class="ax">50.00</text>
<text x="2181.4" y="964.0" text-anchor="end" class="ax">100.00</text>
<text x="2181.4" y="910.0" text-anchor="end" class="ax">150.00</text>
<text x="2181.4" y="856.0" text-anchor="end" class="ax">200.00</text>
<text x="2181.4" y="802.0" text-anchor="end" class="ax">250.00</text>
<text x="2181.4" y="748.0" text-anchor="end" class="ax">300.00</text>
<text x="2181.4" y="694.0" text-anchor="end" class="ax">350.00</text>
<text x="2181.4" y="641.0" text-anchor="end" class="ax">400.00</text>
<text x="2181.4" y="587.0" text-anchor="end" class="ax">450.00</text>
<text x="2181.4" y="533.0" text-anchor="end" class="ax">500.00</text>
<text x="2181.4" y="479.0" text-anchor="end" class="ax">550.00</text>
<text x="2181.4" y="425.0" text-anchor="end" class="ax">600.00</text>
<text x="2181.4" y="371.0" text-anchor="end" class="ax">650.00</text>
<text x="2181.4" y="318.0" text-anchor="end" class="ax">700.00</text>
<text x="2181.4" y="264.0" text-anchor="end" class="ax">750.00</text>
<text x="2181.4" y="210.0" text-anchor="end" class="ax">800.00</text>
<text x="2181.4" y="156.0" text-anchor="end" class="ax">850.00</text>
<text x="2181.4" y="102.0" text-anchor="end" class="ax">900.00</text>
<rect x="2137" y="416" width="49" height="19" rx="2.2" fill="#ee5350"/>
<text x="2161.6" y="429.1" text-anchor="middle" font-size="10.8" fill="#fff" stroke="#fff" stroke-width="0.3">601.30</text>
<text x="2111" y="1169.6" font-size="9.8" fill="#777" stroke="#777" stroke-width="0.15" textLength="65.6" lengthAdjust="spacingAndGlyphs">Exchange: EST</text>
<text x="19.8" y="1213" font-size="10" fill="#222" stroke="#222" stroke-width="0.2" class="hv">©2026 TrendSpider</text>
</svg></body></html>
